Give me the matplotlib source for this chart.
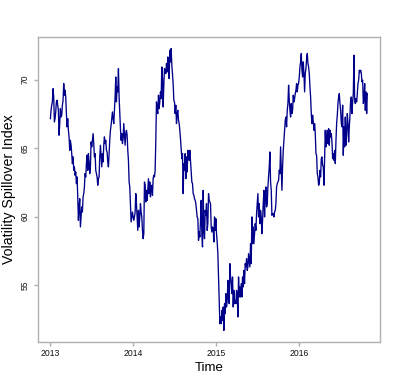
import numpy as np
import matplotlib.pyplot as plt

# volatility spillover index (roughly every 2 trading days)
start_year = 2013.0
end_year = 2016.82

spill_2013 = [
    67.15, 67.76, 68.13, 68.37, 69.34, 68.73, 66.91, 67.15, 67.64, 68.37,
    68.49, 68.13, 67.76, 65.94, 66.79, 67.88, 67.27, 67.40, 68.13, 68.49,
    69.71, 68.86, 69.22, 68.73, 67.52, 66.55, 67.15, 66.30, 65.82, 64.84,
    65.57, 65.21, 64.60, 63.87, 64.36, 63.38, 63.63, 63.02, 63.26, 62.41,
    62.90, 61.44, 59.73, 60.71, 61.31, 59.25, 59.98, 60.71, 60.34, 61.44,
    61.68, 62.17, 63.14, 62.90, 63.87, 64.48, 63.38, 64.60, 63.99, 63.14,
    63.63, 65.45, 65.09, 65.57, 66.06, 65.33, 64.36, 64.60, 63.38, 63.14,
    62.90, 62.29, 62.77, 62.90, 64.36, 65.21, 64.36, 63.63, 64.60, 63.99,
    65.21, 65.82, 65.33, 65.57, 64.84, 64.72, 63.99, 63.63, 64.60, 65.57,
    66.30, 66.67, 67.15, 67.64, 67.15, 66.79, 67.76, 68.73, 70.19, 68.37,
    69.46, 69.10, 70.80, 68.73, 67.52, 66.42, 65.57, 66.06, 65.33, 65.69,
    66.79, 66.06, 65.21, 66.06, 66.30, 65.94, 64.84, 64.11, 62.53, 62.17,
]
spill_2014 = [
    60.95, 59.61, 59.98, 60.34, 59.98, 59.73, 59.98, 60.34, 61.68, 60.95,
    59.98, 59.00, 60.46, 59.25, 59.98, 60.95, 60.34, 59.98, 59.00, 58.39,
    58.76, 62.53, 62.29, 61.07, 61.92, 61.19, 61.92, 62.77, 61.68, 62.53,
    61.44, 62.17, 62.29, 61.56, 62.77, 63.02, 62.90, 63.38, 65.57, 68.37,
    67.76, 67.52, 68.86, 67.88, 68.37, 69.10, 68.61, 70.92, 70.07, 68.00,
    69.59, 70.80, 70.68, 70.44, 71.17, 70.56, 71.65, 70.68, 70.07, 72.14,
    71.29, 72.26, 71.05, 70.32, 69.71, 68.49, 68.37, 67.52, 68.13, 66.79,
    67.52, 67.76, 67.03, 66.79, 66.30, 65.69, 64.96, 64.23, 64.60, 61.68,
    63.87, 63.38, 64.60, 62.77, 64.36, 63.26, 64.84, 64.72, 64.11, 64.84,
    64.11, 63.38, 62.53, 62.41, 61.68, 61.56, 61.31, 61.19, 60.95, 60.46,
    59.98, 59.85, 58.27, 58.88, 58.52, 59.73, 61.19, 58.76, 57.79, 61.92,
    59.00, 58.39, 60.46, 60.10, 60.95, 59.00, 59.49, 61.68, 61.19, 61.07,
    60.95, 59.25, 58.88, 59.25, 59.12, 58.15, 59.98, 59.00, 59.85, 58.76,
    58.15, 57.30, 55.60, 54.14, 52.19,
]
spill_2015 = [
    52.68, 52.19, 53.16, 52.43, 53.41, 51.70, 53.65, 52.92, 54.38, 53.41,
    53.89, 55.35, 54.38, 53.65, 56.57, 55.60, 55.11, 54.38, 55.60, 53.41,
    54.62, 53.65, 53.89, 53.65, 54.62, 54.38, 52.68, 55.60, 54.14, 54.87,
    54.14, 55.11, 54.14, 55.60, 54.87, 56.08, 55.11, 56.57, 56.33, 56.93,
    56.08, 56.33, 57.30, 56.81, 56.33, 58.03, 56.57, 59.98, 58.03, 59.25,
    58.03, 58.76, 59.49, 59.00, 60.22, 60.95, 61.68, 59.98, 60.95, 59.49,
    60.46, 59.98, 58.76, 59.73, 60.95, 61.92, 59.98, 61.44, 62.17, 60.71,
    60.95, 62.17, 62.90, 63.63, 64.72, 62.53, 61.92, 60.10, 60.22, 60.22,
    59.98, 60.34, 60.46, 60.95, 62.17, 62.41, 62.53, 62.65, 63.38, 63.14,
    65.09, 63.38, 61.92, 63.63, 64.84, 65.57, 66.30, 67.03, 67.27, 66.55,
    67.76, 68.25, 69.59, 68.49, 67.76, 67.27, 68.25, 67.52, 67.76, 68.86,
    68.37, 68.61, 68.98, 69.22, 69.71, 69.10, 69.59, 69.71,
]
spill_2016 = [
    70.19, 70.92, 71.29, 71.90, 70.68, 70.19, 71.29, 70.44, 69.10, 70.44,
    70.80, 71.53, 71.90, 71.17, 70.92, 70.44, 69.46, 68.73, 67.52, 66.79,
    67.40, 66.91, 66.30, 66.79, 66.06, 64.60, 64.48, 63.14, 62.90, 62.29,
    62.41, 63.38, 62.90, 64.23, 64.36, 63.75, 63.63, 62.29, 64.36, 66.30,
    65.09, 65.57, 66.30, 65.33, 66.42, 65.21, 66.30, 65.82, 66.06, 65.45,
    64.23, 64.60, 64.11, 64.84, 63.87, 65.57, 66.79, 67.40, 68.25, 68.73,
    68.98, 68.25, 67.76, 66.79, 66.55, 68.13, 64.48, 66.55, 65.09, 67.27,
    65.21, 66.06, 67.52, 66.79, 65.45, 66.55, 67.40, 68.49, 68.73, 67.52,
    68.37, 68.98, 71.78, 68.49, 68.25, 68.61, 68.37, 68.98, 69.71, 69.95,
    70.68, 70.56, 70.68, 70.44, 69.83, 69.95, 68.25, 68.49, 69.71, 67.76,
    69.10, 67.52, 68.98,
]

values = np.array(spill_2013 + spill_2014 + spill_2015 + spill_2016)
time = np.linspace(start_year, end_year, len(values))

x_ticks = [2013, 2014, 2015, 2016]
y_ticks = [55, 60, 65, 70]

plt.rcParams['font.family'] = ['Liberation Sans', 'DejaVu Sans']

fig = plt.figure(figsize=(4.18, 3.80), dpi=100)
ax = fig.add_axes([0.0902, 0.1008, 0.8189, 0.8010])

ax.plot(time, values, color='#00008B', lw=0.95)

# R style limits: 4% padding around the data range
xr = time.max() - time.min()
yr = values.max() - values.min()
ax.set_xlim(time.min() - 0.04 * xr, time.max() + 0.04 * xr)
ax.set_ylim(values.min() - 0.04 * yr, values.max() + 0.04 * yr)

ax.set_xticks(x_ticks)
ax.set_xticklabels([str(t) for t in x_ticks])
ax.set_yticks(y_ticks)
ax.set_yticklabels([str(t) for t in y_ticks], rotation=90, va='center')

for s in ax.spines.values():
    s.set_color('#b0b0b0')
    s.set_linewidth(1.0)
ax.tick_params(direction='out', length=3, width=1.0, color='#b0b0b0',
               labelsize=6.2, pad=2.5, labelcolor='#111111')

ax.set_xlabel('Time', fontsize=9.5, labelpad=2.5)
ax.set_ylabel('Volatility Spillover Index', fontsize=10.2, labelpad=4)

fig.savefig('out.png', dpi=100, facecolor='white')
